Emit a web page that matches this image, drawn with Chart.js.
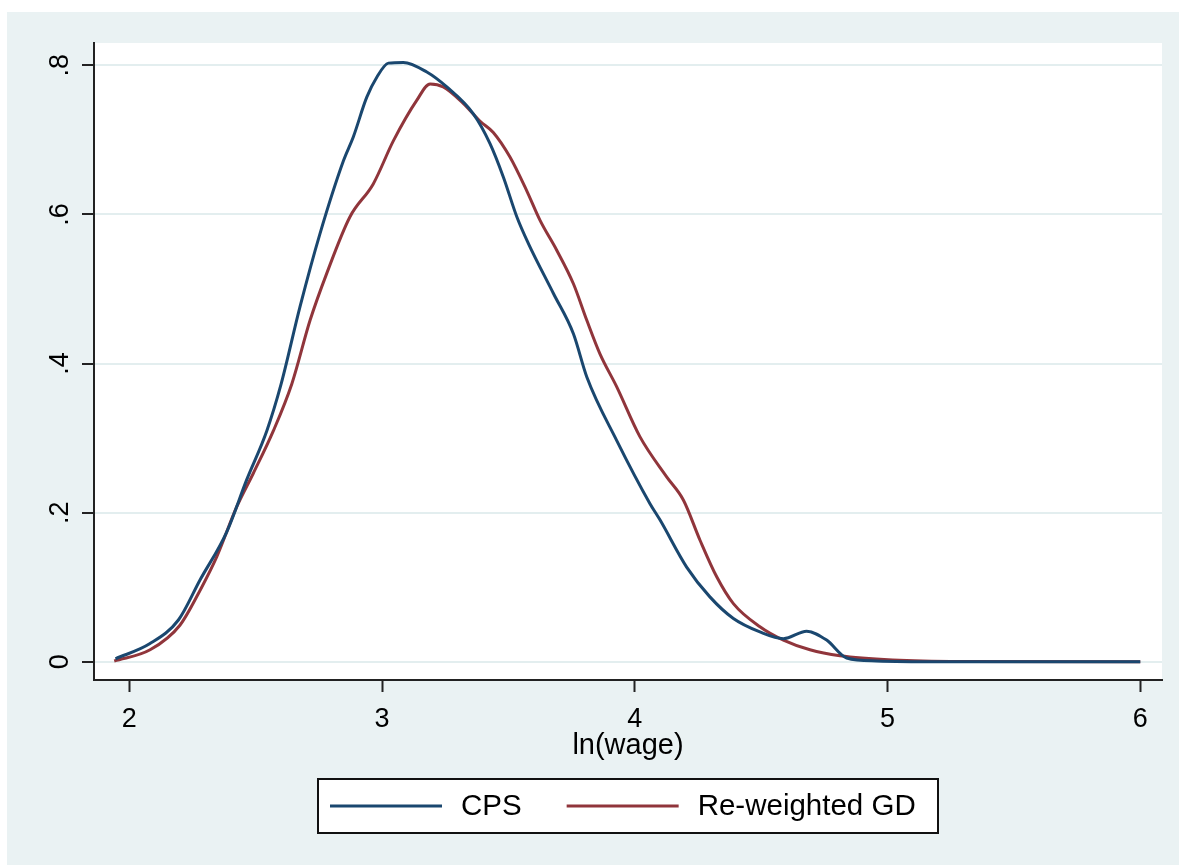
<!DOCTYPE html>
<html lang="en">
<head>
    <meta charset="UTF-8">
    <title>ln(wage) density</title>
    <style>
        html, body { margin: 0; padding: 0; background: #ffffff; }
        #chart-container { width: 1179px; height: 865px; }
    </style>
</head>
<body>
<script src="https://cdn.jsdelivr.net/npm/chart.js@4.4.1/dist/chart.umd.min.js"></script>

<div id="chart-container">
    <canvas id="graphCanvas"></canvas>
</div>

<script>
    // kernel density
    var cpsX = [1.945, 2.08, 2.194, 2.28, 2.385, 2.464, 2.544, 2.60, 2.675, 2.754, 2.847, 2.886, 2.939, 2.979, 3.025, 3.084, 3.177, 3.256, 3.361, 3.427, 3.48, 3.533, 3.579, 3.678, 3.757, 3.81, 3.928, 4.06, 4.10, 4.205, 4.297, 4.39, 4.495, 4.588, 4.68, 4.759, 4.838, 4.957, 5.2, 6.0];
    var cpsY = [0.004, 0.024, 0.056, 0.11, 0.174, 0.244, 0.31, 0.372, 0.476, 0.574, 0.672, 0.704, 0.757, 0.784, 0.803, 0.804, 0.791, 0.771, 0.735, 0.695, 0.650, 0.597, 0.561, 0.494, 0.440, 0.382, 0.297, 0.212, 0.190, 0.127, 0.087, 0.058, 0.040, 0.031, 0.041, 0.029, 0.005, 0.001, 0.0, 0.0];

    var gdX = [1.94, 2.082, 2.2, 2.28, 2.346, 2.425, 2.49, 2.57, 2.643, 2.715, 2.781, 2.873, 2.965, 3.045, 3.137, 3.19, 3.242, 3.321, 3.388, 3.44, 3.506, 3.572, 3.625, 3.691, 3.757, 3.81, 3.862, 3.928, 4.02, 4.126, 4.192, 4.258, 4.324, 4.39, 4.495, 4.588, 4.693, 4.812, 5.02, 5.29, 6.0];
    var gdY = [0.001, 0.016, 0.049, 0.096, 0.141, 0.208, 0.2525, 0.31, 0.373, 0.458, 0.521, 0.597, 0.641, 0.699, 0.753, 0.775, 0.771, 0.749, 0.725, 0.710, 0.677, 0.632, 0.592, 0.552, 0.507, 0.458, 0.413, 0.369, 0.302, 0.248, 0.217, 0.163, 0.114, 0.078, 0.047, 0.029, 0.016, 0.008, 0.0023, 0.0003, 0.0];

    var seriesNames = ["CPS", "Re-weighted GD"];
    var xTicks = [2, 3, 4, 5, 6];
    var yTicks = [0, 0.2, 0.4, 0.6, 0.8];
    var yTickLabels = ["0", ".2", ".4", ".6", ".8"];
    var xTitle = "ln(wage)";

    var FONT = "'Liberation Sans', Arial, sans-serif";
    var BG = "#EAF2F3";
    var navy = "#1a476f";
    var maroon = "#90353b";

    function pts(xs, ys) {
        var out = [];
        for (var i = 0; i < xs.length; i++) out.push({x: xs[i], y: ys[i]});
        return out;
    }

    // stata-ish background, rotated y labels, x title and boxed legend
    var stataLook = {
        id: 'stataLook',
        beforeDraw: function (chart) {
            var ctx = chart.ctx, a = chart.chartArea;
            ctx.save();
            ctx.fillStyle = "#ffffff";
            ctx.fillRect(0, 0, chart.width, chart.height);
            ctx.fillStyle = BG;
            ctx.fillRect(7, 12, chart.width - 7, chart.height - 12);
            ctx.fillStyle = "#ffffff";
            ctx.fillRect(a.left, a.top, a.right - a.left, a.bottom - a.top);
            ctx.restore();
        },
        afterDraw: function (chart) {
            var ctx = chart.ctx, a = chart.chartArea;
            var ys = chart.scales.y;
            ctx.save();
            ctx.fillStyle = "#000000";

            // y tick labels, read upward
            ctx.font = "27px " + FONT;
            ctx.textAlign = "center";
            ctx.textBaseline = "middle";
            for (var i = 0; i < yTicks.length; i++) {
                var py = ys.getPixelForValue(yTicks[i]);
                ctx.save();
                ctx.translate(61, py);
                ctx.rotate(-Math.PI / 2);
                ctx.fillText(yTickLabels[i], 0, 0);
                ctx.restore();
            }

            // x title
            ctx.font = "29px " + FONT;
            ctx.fillText(xTitle, (a.left + a.right) / 2, 746);

            // legend
            var bx = 318, by = 779, bw = 620, bh = 54;
            ctx.fillStyle = "#ffffff";
            ctx.fillRect(bx, by, bw, bh);
            ctx.strokeStyle = "#111111";
            ctx.lineWidth = 2;
            ctx.strokeRect(bx, by, bw, bh);

            ctx.font = "29.5px " + FONT;
            ctx.textAlign = "left";
            var lx = 330, ly = by + bh / 2;
            chart.data.datasets.forEach(function (ds) {
                ctx.strokeStyle = ds.borderColor;
                ctx.lineWidth = 3;
                ctx.beginPath();
                ctx.moveTo(lx, ly);
                ctx.lineTo(lx + 112, ly);
                ctx.stroke();
                ctx.fillStyle = "#000000";
                ctx.fillText(ds.label, lx + 131, ly + 1);
                lx += 131 + ctx.measureText(ds.label).width + 45;
            });
            ctx.restore();
        }
    };

    var graphTarget = document.getElementById("graphCanvas");

    var myChart = new Chart(graphTarget, {
        type: 'scatter',
        data: {
            datasets: [{
                label: seriesNames[0],
                data: pts(cpsX, cpsY),
                borderColor: navy,
                backgroundColor: navy,
                borderWidth: 3,
                showLine: true,
                pointRadius: 0,
                cubicInterpolationMode: 'monotone'
            }, {
                label: seriesNames[1],
                data: pts(gdX, gdY),
                borderColor: maroon,
                backgroundColor: maroon,
                borderWidth: 3,
                showLine: true,
                pointRadius: 0,
                cubicInterpolationMode: 'monotone'
            }]
        },
        options: {
            responsive: true,
            maintainAspectRatio: false,
            animation: false,
            layout: {
                padding: {left: 0, right: 17, top: 43, bottom: 0}
            },
            plugins: {
                legend: {display: false},
                tooltip: {enabled: false}
            },
            scales: {
                x: {
                    type: 'linear',
                    min: 1.86,
                    max: 6.086,
                    afterBuildTicks: function (scale) {
                        scale.ticks = xTicks.map(function (v) { return {value: v}; });
                    },
                    afterFit: function (scale) { scale.height = 185; },
                    ticks: {
                        color: "#000000",
                        font: {family: FONT, size: 27},
                        padding: 11,
                        maxRotation: 0,
                        callback: function (v) { return String(v); }
                    },
                    grid: {
                        drawOnChartArea: false,
                        drawTicks: true,
                        tickLength: 12,
                        tickColor: "#222222",
                        tickWidth: 2
                    },
                    border: {display: true, color: "#222222", width: 2}
                },
                y: {
                    type: 'linear',
                    min: -0.0245,
                    max: 0.830,
                    afterBuildTicks: function (scale) {
                        scale.ticks = yTicks.map(function (v) { return {value: v}; });
                    },
                    afterFit: function (scale) { scale.width = 94; },
                    ticks: {display: false},
                    grid: {
                        color: "#E3EEEF",
                        lineWidth: 2,
                        drawTicks: true,
                        tickLength: 12,
                        tickColor: "#222222",
                        tickWidth: 2
                    },
                    border: {display: true, color: "#222222", width: 2}
                }
            }
        },
        plugins: [stataLook]
    });
</script>

</body>
</html>
